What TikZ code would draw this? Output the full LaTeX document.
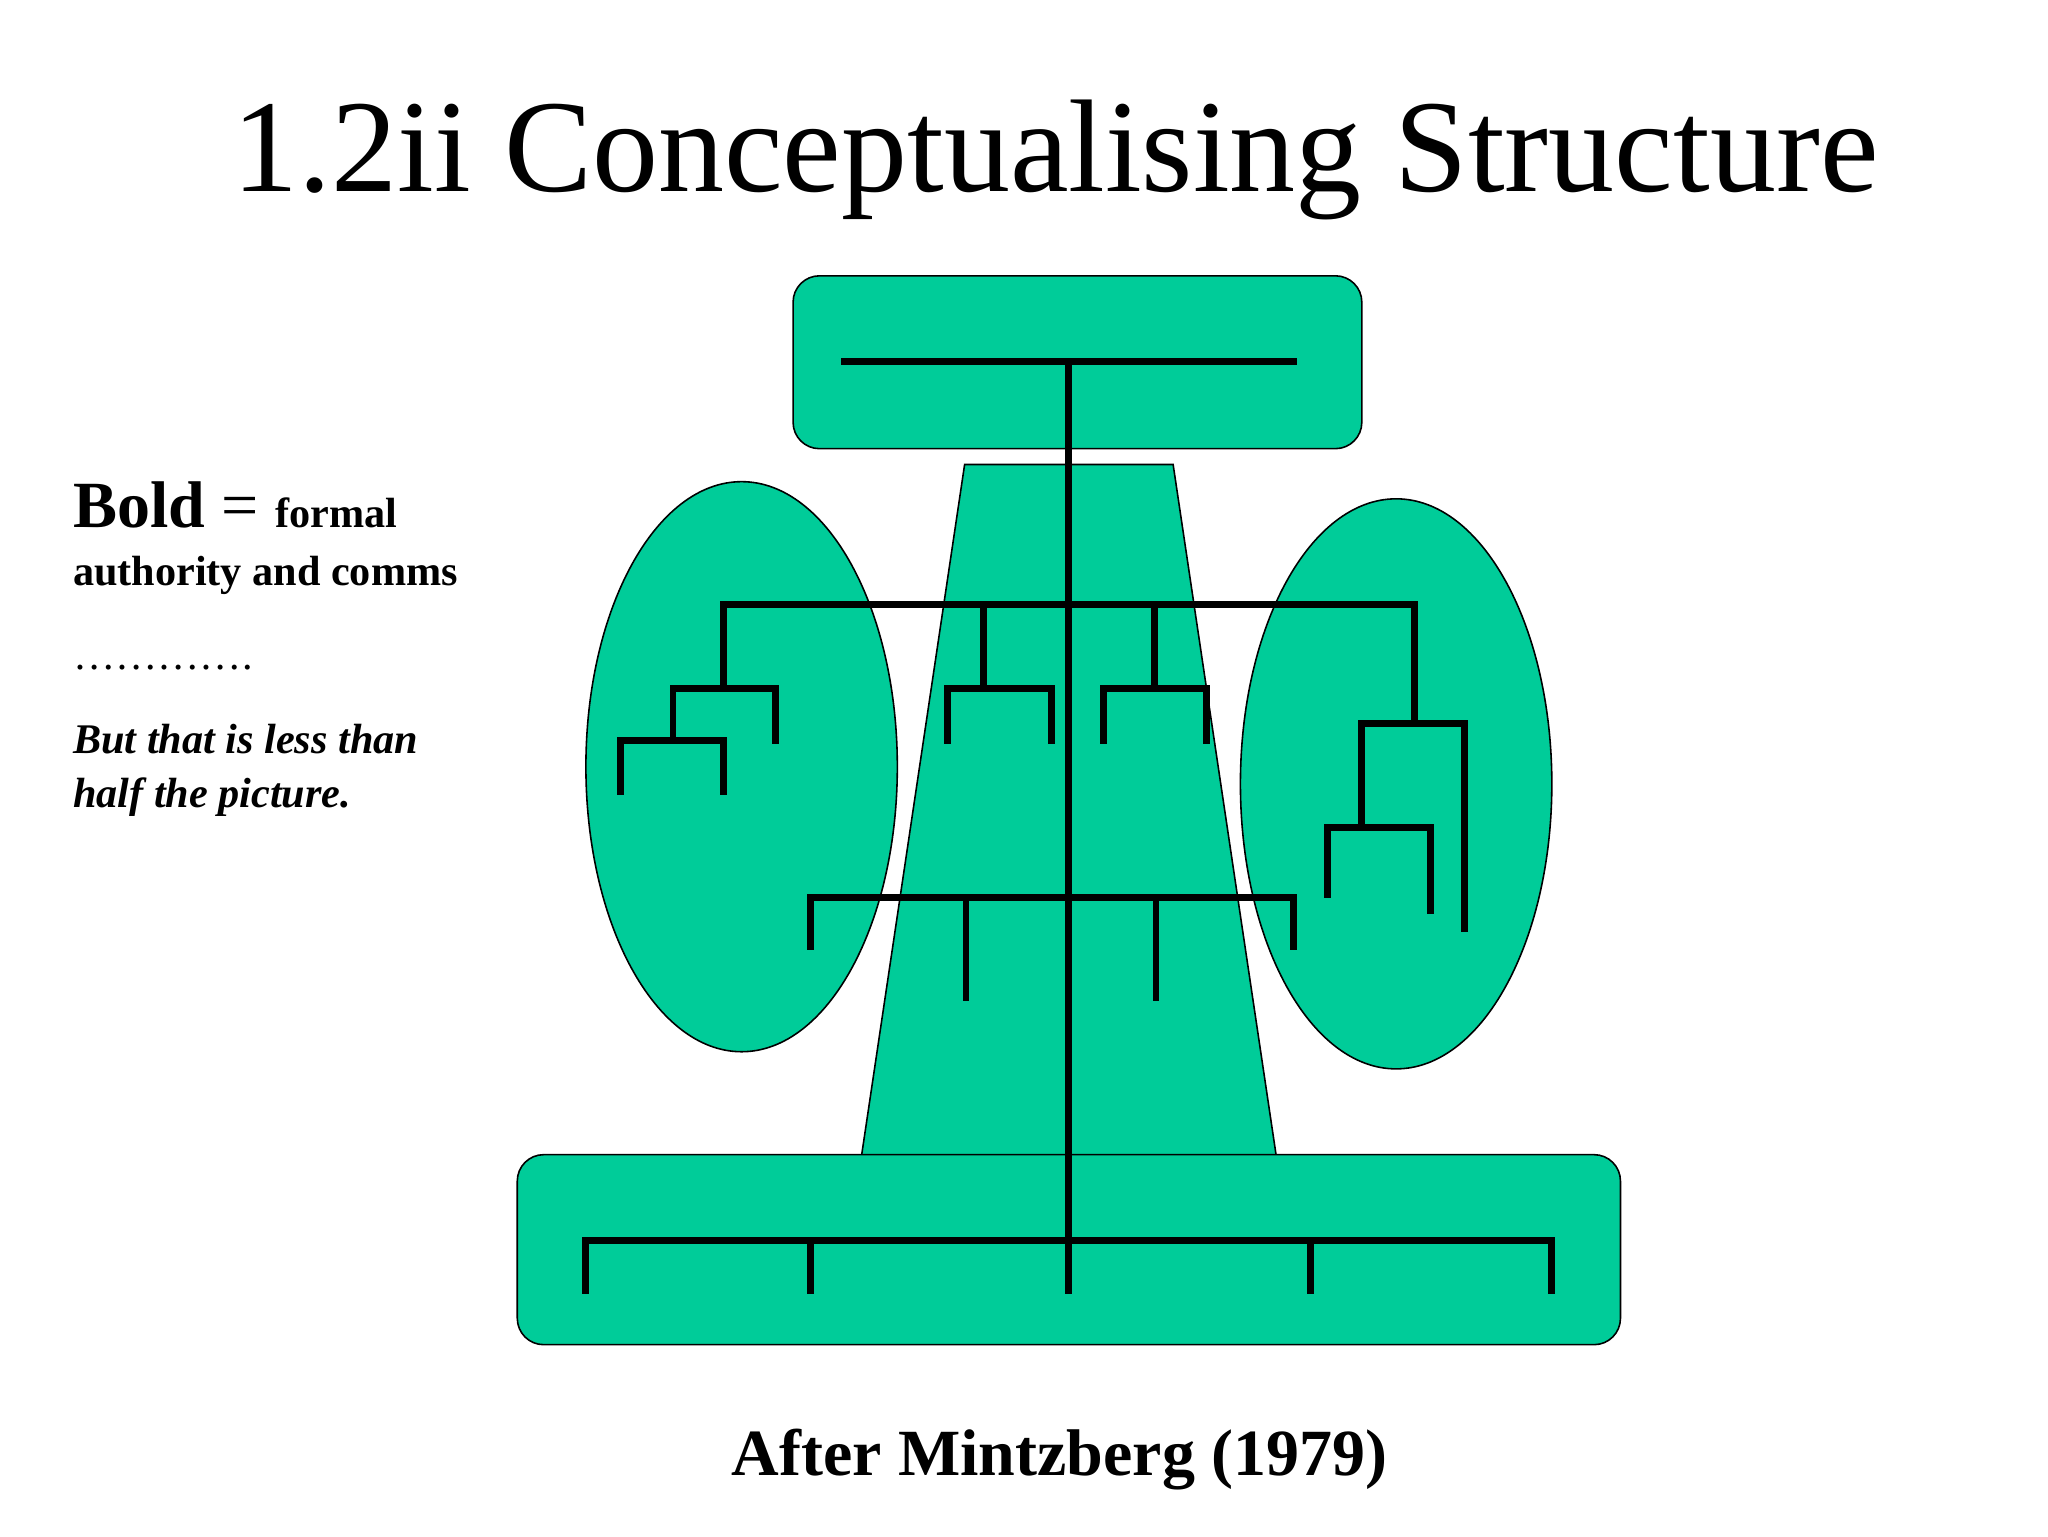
\documentclass[tikz,border=0pt]{standalone}
\usepackage{fontspec}
\setmainfont{Liberation Serif}
\begin{document}
\begin{tikzpicture}[x=0.5pt,y=-0.5pt,
  shp/.style={fill=teal0,draw=black,line width=0.6pt},
  ln/.style={line width=2.6pt,line cap=rect}]
\definecolor{teal0}{HTML}{00CC99}
\useasboundingbox (0,0) rectangle (1552,1164);
% shapes
\fill[teal0] (562,581) ellipse [x radius=118,y radius=216];
\fill[teal0] (1058,594) ellipse [x radius=118,y radius=216];
\draw[line width=0.6pt] (562,581) ellipse [x radius=118,y radius=216];
\draw[line width=0.6pt] (1058,594) ellipse [x radius=118,y radius=216];
\fill[teal0] (731,352) -- (889,352) -- (967,875) -- (653,875) -- cycle;
\draw[line width=0.6pt] (653,875) -- (731,352) -- (889,352) -- (967,875);
\draw[shp,rounded corners=10pt] (601,209) rectangle (1032,340);
\draw[shp,rounded corners=10pt] (392,875) rectangle (1228,1019);
% lines
\draw[ln] (640,274) -- (980,274);
\draw[ln] (810,274) -- (810,978);
\draw[ln] (548,522) -- (548,458) -- (1072,458) -- (1072,548);
\draw[ln] (745,458) -- (745,522); \draw[ln] (875,458) -- (875,522);
\draw[ln] (510,561) -- (510,522) -- (588,522) -- (588,561);
\draw[ln] (470,600) -- (470,561) -- (548,561) -- (548,600);
\draw[ln] (718,561) -- (718,522) -- (797,522) -- (797,561);
\draw[ln] (836,561) -- (836,522) -- (914,522) -- (914,561);
\draw[ln] (1032,627) -- (1032,548) -- (1110,548) -- (1110,704);
\draw[ln] (1006,678) -- (1006,627) -- (1084,627) -- (1084,690);
\draw[ln] (614,717) -- (614,680) -- (980,680) -- (980,717);
\draw[ln] (732,680) -- (732,756); \draw[ln] (876,680) -- (876,756);
\draw[ln] (444,978) -- (444,940) -- (1176,940) -- (1176,978);
\draw[ln] (614,940) -- (614,978); \draw[ln] (993,940) -- (993,978);
% text
\node[anchor=base] (title) at (800,145) {\fontsize{50pt}{60pt}\selectfont 1.2ii Conceptualising Structure};
\node[anchor=base west,inner sep=0pt] (bold) at (55,400) {\fontsize{25pt}{30pt}\selectfont\bfseries Bold\ \mdseries= \fontsize{16pt}{19pt}\selectfont\bfseries formal};
\node[anchor=base west,inner sep=0pt] (auth) at (55,444) {\fontsize{16pt}{19pt}\selectfont\bfseries authority and comms};
\node[anchor=base west,inner sep=0pt] (dots) at (55,507) {\fontsize{16pt}{19pt}\selectfont ………….};
\node[anchor=base west,inner sep=0pt] (but1) at (55,571) {\fontsize{16pt}{19pt}\selectfont\bfseries\itshape But that is less than};
\node[anchor=base west,inner sep=0pt] (but2) at (55,612) {\fontsize{16pt}{19pt}\selectfont\bfseries\itshape half the picture.};
\node[anchor=base] (after) at (803,1118) {\fontsize{25pt}{30pt}\selectfont\bfseries After Mintzberg (1979)};
\end{tikzpicture}
\end{document}
